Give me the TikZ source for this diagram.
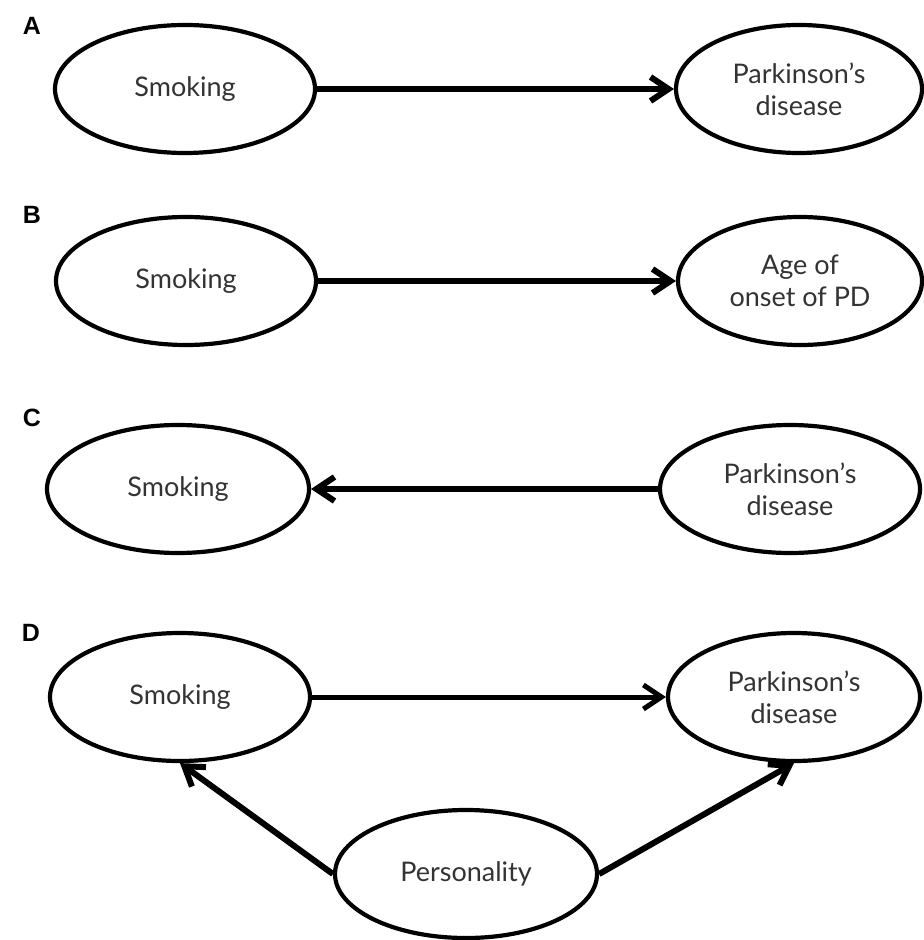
\documentclass[tikz,border=0pt]{standalone}
\usepackage{fontspec}
\setmainfont{Lato}
\newfontfamily\labfont{Liberation Sans}
\usetikzlibrary{arrows.meta,shapes.geometric,positioning}
\definecolor{txtgray}{HTML}{333333}

\begin{document}
\begin{tikzpicture}[x = .5pt, y = -.5pt,
  var/.style = {ellipse, draw, line width = 2.1pt, minimum width = 130pt, minimum height = 64pt, inner sep = 0pt, align = center, font = \fontsize{13.5}{16}\selectfont, text = txtgray},
  panel/.style = {font = \labfont\bfseries\fontsize{12.5}{14}\selectfont},
  >={Straight Barb[length = 9pt, width = 12pt]}]
\useasboundingbox (0,0) rectangle (923,940);
% A
\node[panel] (labA) at (32,26) {A};
\node[var] (smokeA) at (185,89) {Smoking};
\node[var, minimum width = 123pt] (pdA) at (799,89) {Parkinson's\\disease};
\draw[->, line width = 3pt] (smokeA) -- (pdA);
% B
\node[panel] (labB) at (32,215) {B};
\node[var] (smokeB) at (186,281) {Smoking};
\node[var, minimum width = 122pt] (ageB) at (800,281) {Age of\\onset of PD};
\draw[->, line width = 3pt] (smokeB) -- (ageB);
% C
\node[panel] (labC) at (32,418) {C};
\node[var, minimum width = 131pt] (smokeC) at (178,489) {Smoking};
\node[var] (pdC) at (790,489) {Parkinson's\\disease};
\draw[->, line width = 3pt] (pdC) -- (smokeC);
% D
\node[panel] (labD) at (31,633) {D};
\node[var] (smokeD) at (180,697) {Smoking};
\node[var, minimum width = 126pt] (pdD) at (794,697) {Parkinson's\\disease};
\node[var, minimum width = 131pt] (pers) at (466,874) {Personality};
\draw[->, line width = 2.5pt] (smokeD) -- (pdD);
\draw[->, line width = 3pt] (pers.west) -- (smokeD.south);
\draw[->, line width = 3pt] (pers.east) -- (pdD.south);
\end{tikzpicture}
\end{document}
